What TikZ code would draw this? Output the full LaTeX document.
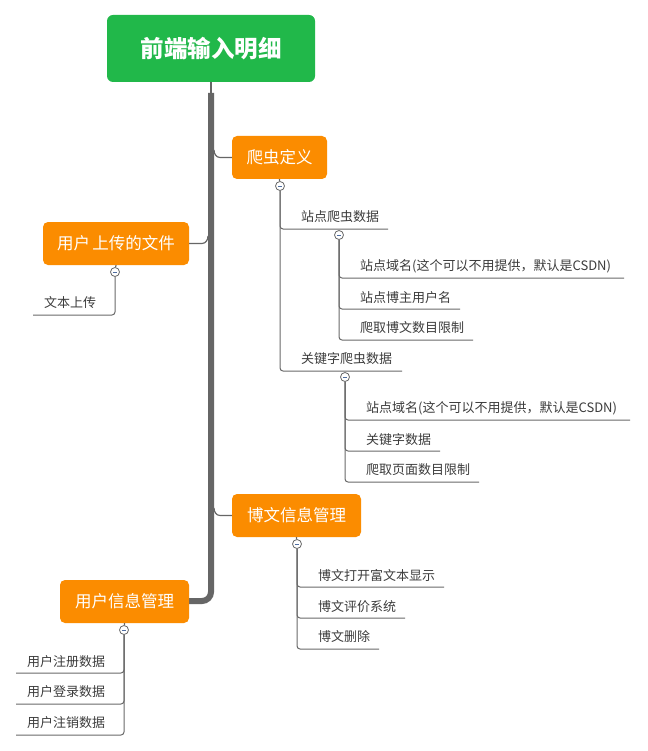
\documentclass[tikz,border=0pt]{standalone}
\usepackage{fontspec}
\setmainfont{Noto Sans CJK SC}
\newfontfamily\cjk{Noto Sans CJK SC}
\usetikzlibrary{calc}
\definecolor{rootgreen}{RGB}{33,184,74}
\definecolor{branchorange}{RGB}{251,140,0}
\definecolor{trunkgray}{RGB}{102,102,102}
\definecolor{linegray}{RGB}{105,105,105}
\definecolor{itemtext}{RGB}{60,60,60}
\definecolor{togglemark}{RGB}{80,110,160}
\tikzset{
  rootbox/.style={fill=rootgreen, rounded corners=6pt, text=white, font=\cjk\bfseries\fontsize{23.5}{25}\selectfont, inner sep=0pt},
  branchbox/.style={fill=branchorange, rounded corners=5pt, text=white, font=\cjk\fontsize{16.5}{18}\selectfont, inner sep=0pt, minimum height=43pt},
  itemlabel/.style={anchor=west, inner sep=0pt, text=itemtext, font=\cjk\fontsize{13}{15}\selectfont},
  trunk/.style={draw=trunkgray, line width=6pt, rounded corners=9pt},
  twig/.style={draw=trunkgray, line width=1.2pt},
  subline/.style={draw=linegray, line width=1pt, rounded corners=3pt},
  toggle/.style={circle, draw=linegray, fill=white, line width=0.8pt, minimum size=9pt, inner sep=0pt,
    path picture={\draw[togglemark, line width=0.8pt] ([xshift=-2.2pt]path picture bounding box.center) -- ([xshift=2.2pt]path picture bounding box.center);}},
}
\begin{document}
\begin{tikzpicture}[x=1pt, y=-1pt]
\useasboundingbox[fill=white] (0,0) rectangle (647,751);

% central topic and trunk
\node[rootbox, minimum width=208pt, minimum height=67pt] (root) at (211,48.5) {\raisebox{-1.5pt}{前端输入明细}};
\coordinate (trunktop) at (211,93);
\draw[twig] (root.south) -- (trunktop);
\draw[trunk] (trunktop) -- (211,601) -- (189,601);

% main branches
\node[branchbox, minimum width=95pt] (crawl) at (279.5,157.5) {\raisebox{-1pt}{爬虫定义}};
\node[branchbox, minimum width=146pt] (upload) at (116,243.5) {\raisebox{-1pt}{用户\hspace{-1.5pt} 上传的文件}};
\node[branchbox, minimum width=129pt] (blog) at (296.5,515.5) {\raisebox{-1pt}{博文信息管理}};
\node[branchbox, minimum width=129pt] (user) at (124.5,601.5) {\raisebox{-1pt}{用户信息管理}};

\draw[twig] (214,150) to[out=-90,in=180] (220,157.5) -- (crawl.west);
\draw[twig] (upload.east) -- (202,243.5) to[out=0,in=-90] (208,236);
\draw[twig] (214,508) to[out=-90,in=180] (220,515.5) -- (blog.west);

% toggles
\node[toggle] (tcrawl) at (280,186) {};
\node[toggle] (tsite) at (339,235) {};
\node[toggle] (tkey) at (345,377) {};
\node[toggle] (tupload) at (115,272) {};
\node[toggle] (tblog) at (297,544) {};
\node[toggle] (tuser) at (124,630) {};
\draw[twig] (crawl.south) -- (tcrawl);
\draw[twig] (upload.south) -- (tupload);
\draw[twig] (blog.south) -- (tblog);
\draw[twig] (user.south) -- (tuser);

% crawler definition
\node[itemlabel] (site) at (301,216.5) {站点爬虫数据};
\node[itemlabel] (key) at (301,358.5) {关键字爬虫数据};
\coordinate (siteend) at (388,229);
\coordinate (keyend) at (402,371);
\draw[subline] (tcrawl.south) |- (siteend);
\draw[subline] (tcrawl.south) |- (keyend);

\node[itemlabel] (sdom) at (360,266.5) {站点域名(这个可以不用提供，默认是CSDN)};
\node[itemlabel] (sblogger) at (360,297.5) {站点博主用户名};
\node[itemlabel] (slimit) at (360,327.5) {爬取博文数目限制};
\coordinate (sdomend) at (624,278);
\coordinate (sbloggerend) at (460,309);
\coordinate (slimitend) at (473,340);
\draw[subline] (tsite.south) |- (sdomend);
\draw[subline] (tsite.south) |- (sbloggerend);
\draw[subline] (tsite.south) |- (slimitend);

\node[itemlabel] (kdom) at (366,408.5) {站点域名(这个可以不用提供，默认是CSDN)};
\node[itemlabel] (kword) at (366,439.5) {关键字数据};
\node[itemlabel] (klimit) at (366,469.5) {爬取页面数目限制};
\coordinate (kdomend) at (630,420);
\coordinate (kwordend) at (440,451);
\coordinate (klimitend) at (479,482);
\draw[subline] (tkey.south) |- (kdomend);
\draw[subline] (tkey.south) |- (kwordend);
\draw[subline] (tkey.south) |- (klimitend);

% uploaded files
\node[itemlabel] (text) at (44,302.5) {文本上传};
\coordinate (textend) at (33,315);
\draw[subline] (tupload.south) |- (textend);

% blog management
\node[itemlabel] (rich) at (318,575.5) {博文打开富文本显示};
\node[itemlabel] (rate) at (318,606.5) {博文评价系统};
\node[itemlabel] (del) at (318,636.5) {博文删除};
\coordinate (richend) at (444,587);
\coordinate (rateend) at (405,618);
\coordinate (delend) at (379,649);
\draw[subline] (tblog.south) |- (richend);
\draw[subline] (tblog.south) |- (rateend);
\draw[subline] (tblog.south) |- (delend);

% user management
\node[itemlabel] (reg) at (27,661.5) {用户注册数据};
\node[itemlabel] (login) at (27,691.5) {用户登录数据};
\node[itemlabel] (logout) at (27,722.5) {用户注销数据};
\coordinate (regend) at (16,673);
\coordinate (loginend) at (16,704);
\coordinate (logoutend) at (16,735);
\draw[subline] (tuser.south) |- (regend);
\draw[subline] (tuser.south) |- (loginend);
\draw[subline] (tuser.south) |- (logoutend);
\end{tikzpicture}
\end{document}
